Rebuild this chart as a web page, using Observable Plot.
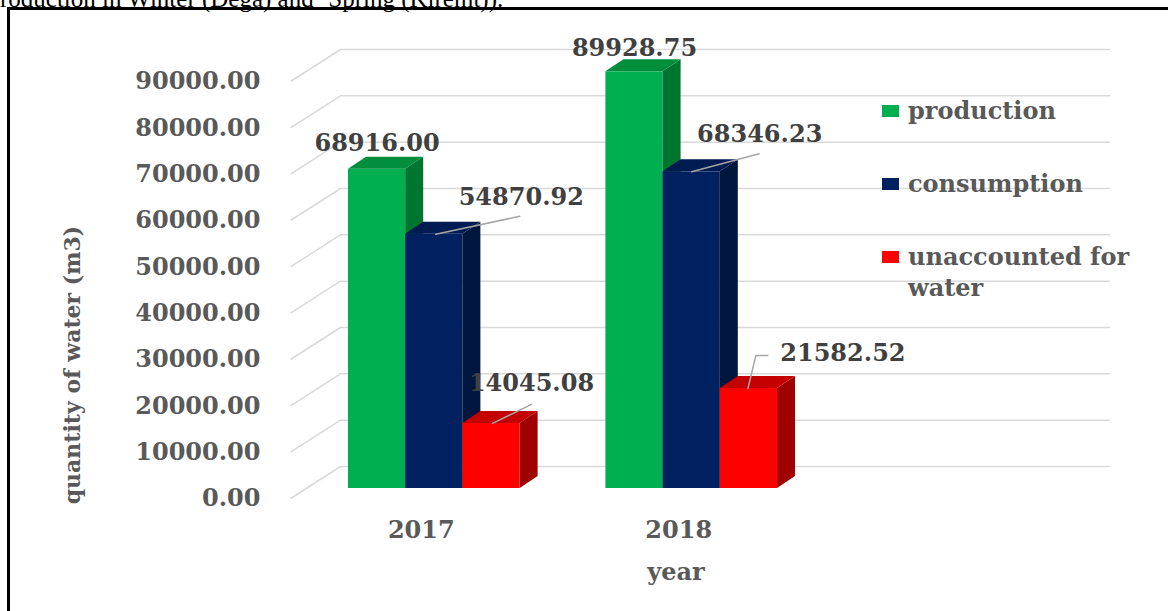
<!DOCTYPE html>
<html>
<head>
<meta charset="utf-8">
<script src="https://cdn.jsdelivr.net/npm/d3@7"></script>
<script src="https://cdn.jsdelivr.net/npm/@observablehq/plot@0.6"></script>
<style>
  html, body { margin: 0; padding: 0; background: #fff; width: 1168px; height: 611px; overflow: hidden; }
  #wrap { position: relative; width: 1168px; height: 611px; overflow: hidden; }
  #chart { position: absolute; left: 0; top: 0; }
  #cap { position: absolute; left: 0; top: -12px; font: 25px "Liberation Serif", serif; color: #000; white-space: nowrap; line-height: 22px; }
  #frame { position: absolute; left: 7px; top: 7px; width: 1200px; height: 640px; border-left: 3px solid #000; border-top: 3px solid #000; box-sizing: border-box; pointer-events: none; }
  .ttl { position: absolute; font: bold 24px "DejaVu Serif", serif; color: #595959; white-space: nowrap; text-align: center; }
  #ytitle { width: 340px; left: -98px; top: 352px; height: 26px; line-height: 26px; font-size: 22px; transform: rotate(-90deg); transform-origin: 50% 50%; }
  #xtitle { width: 120px; left: 616px; top: 557px; line-height: 30px; }
  #legend { position: absolute; left: 882px; top: 95px; font: bold 24px "DejaVu Serif", serif; color: #595959; }
  .lrow { position: relative; height: 73px; }
  .lsw { position: absolute; left: 0; top: 10px; width: 17px; height: 12px; }
  .ltx { position: absolute; left: 26px; top: 0; line-height: 31px; white-space: nowrap; }
</style>
</head>
<body>
<div id="wrap">
  <div id="chart"></div>
  <div id="cap">roduction in Winter (Dega) and ‘Spring (Kiremt)).</div>
  <div id="frame"></div>
  <div id="ytitle" class="ttl">quantity of water (m3)</div>
  <div id="xtitle" class="ttl">year</div>
  <div id="legend"></div>
</div>
<script>
// ---- data ----
const years = ["2017", "2018"];
const seriesNames = ["production", "consumption", "unaccounted for water"];
const legendLabels = ["production", "consumption", "unaccounted for<br>water"];
const production = [68916.00, 89928.75];
const consumption = [54870.92, 68346.23];
const unaccounted = [14045.08, 21582.52];
const yTicks = [0, 10000, 20000, 30000, 40000, 50000, 60000, 70000, 80000, 90000];

// ---- styles ----
const frontColors = ["#00b050", "#002060", "#ff0000"];
const sideColors  = ["#00752f", "#00163f", "#a00000"];
const topColors   = ["#008e3d", "#001a52", "#c40000"];
const gridColor = "#d9d9d9";
const FONT = "DejaVu Serif";

// ---- layout (pixels) ----
const BW = 57.2;            // px per bar slot
const PXY = 417 / 90000;    // px per value unit
const GROUP = 4.5;          // slots between year groups
const DX = 18 / BW;         // bar depth (x)
const DY = 12 / PXY;        // bar depth (y)
const FRONT_X = (290 - 348) / BW;
const BACK_X0 = (340 - 348) / BW;
const BACK_X1 = (1110 - 348) / BW;
const BACK_DY = -22, FRONT_DY = 10;
const YEAR_NUDGE = -13 / BW;
// label nudges [dx, dy] from the bar's top centre, and optional leader paths
const labelNudge = [[0, -26], [87, -37], [40, -40], [0, -24], [68, -38], [94, -35]];
const leaderPaths = [null, [[1.5, 0], [85.5, -18]], [[1, 0], [40, -19]], null,
                     [[0, 0], [67.5, -18]], [[-1, 0], [7, -33], [19, -33]]];

const values = [production, consumption, unaccounted];
const bars = [];
years.forEach((year, j) => seriesNames.forEach((s, i) => {
  bars.push({id: bars.length, year, series: s, i, j, value: values[i][j],
             x0: j * GROUP + i, x1: j * GROUP + i + 1});
}));

const side = bars.flatMap(b => [
  {id: b.id, i: b.i, x: b.x1, y1: 0, y2: b.value},
  {id: b.id, i: b.i, x: b.x1 + DX, y1: DY, y2: b.value + DY}
]);
const tops = bars.flatMap(b => [
  {id: b.id, i: b.i, y: b.value, x1: b.x0, x2: b.x1},
  {id: b.id, i: b.i, y: b.value + DY, x1: b.x0 + DX, x2: b.x1 + DX}
]);
const leaders = bars.flatMap(b => {
  const p = leaderPaths[b.id];
  if (!p) return [];
  const xc = (b.x0 + b.x1) / 2;
  return p.map(([dx, dy]) => ({id: b.id, x: xc + dx / BW, y: b.value - dy / PXY}));
});

const marks = [
  // back wall gridlines
  Plot.ruleY(yTicks, {y: d => d, x1: () => BACK_X0, x2: () => BACK_X1, dy: BACK_DY, stroke: gridColor, strokeWidth: 1.5}),
  // side wall diagonals
  Plot.link(yTicks, {x1: () => FRONT_X, y1: d => d - FRONT_DY / PXY, x2: () => BACK_X0, y2: d => d - BACK_DY / PXY,
                     stroke: gridColor, strokeWidth: 1.5}),
  // y tick labels
  Plot.text(yTicks, {y: d => d, frameAnchor: "left", dx: -10, dy: FRONT_DY, text: d => d.toFixed(2), textAnchor: "end",
                     fontSize: 24, fontWeight: "bold", fontFamily: FONT, fill: "#595959"})
];
for (let i = 0; i < seriesNames.length; i++) {
  marks.push(Plot.rect(bars.filter(b => b.i === i), {x1: "x0", x2: "x1", y1: () => 0, y2: "value", fill: frontColors[i]}));
  marks.push(Plot.areaY(side.filter(d => d.i === i), {x: "x", y1: "y1", y2: "y2", z: "id", fill: sideColors[i]}));
  marks.push(Plot.areaX(tops.filter(d => d.i === i), {y: "y", x1: "x1", x2: "x2", z: "id", fill: topColors[i]}));
}
marks.push(
  Plot.line(leaders, {x: "x", y: "y", z: "id", stroke: "#a6a6a6", strokeWidth: 1.5}),
  Plot.text(bars, {x: b => (b.x0 + b.x1) / 2 + labelNudge[b.id][0] / BW, y: b => b.value - labelNudge[b.id][1] / PXY,
                   text: b => b.value.toFixed(2), fontSize: 24, fontWeight: "bold", fontFamily: FONT, fill: "#404040"}),
  Plot.text(years, {x: (d, j) => j * GROUP + 1.5 + YEAR_NUDGE, y: () => 0, dy: 42, text: d => d,
                    fontSize: 24, fontWeight: "bold", fontFamily: FONT, fill: "#595959"})
);

const chart = Plot.plot({
  width: 1168, height: 611,
  marginLeft: 270, marginRight: 0, marginTop: 0, marginBottom: 0,
  style: {background: "transparent"},
  x: {domain: [0, 10], range: [348, 348 + 10 * BW], axis: null},
  y: {domain: [0, 90000], range: [488, 488 - 90000 * PXY], axis: null},
  marks
});
document.getElementById("chart").appendChild(chart);

// legend built from the series names and colours
const lg = document.getElementById("legend");
seriesNames.forEach((s, i) => {
  const row = document.createElement("div");
  row.className = "lrow";
  row.innerHTML = `<div class="lsw" style="background:${frontColors[i]}"></div><div class="ltx">${legendLabels[i]}</div>`;
  lg.appendChild(row);
});
</script>
</body>
</html>
